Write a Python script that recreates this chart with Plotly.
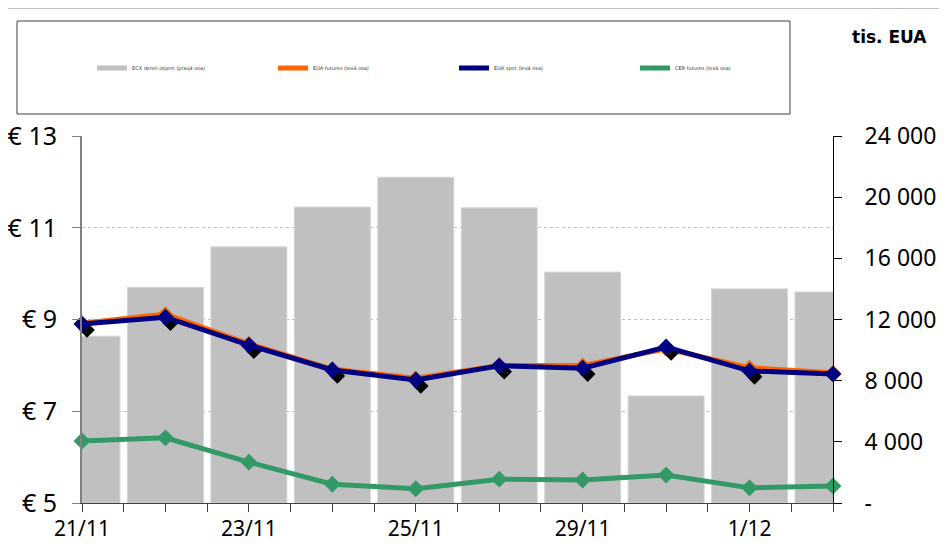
import plotly.graph_objects as go

# ---------------- data ----------------
categories = ['21/11', '22/11', '23/11', '24/11', '25/11', '28/11', '29/11', '30/11', '1/12', '2/12']
ecx_volume = [10900, 14100, 16750, 19350, 21300, 19300, 15100, 7000, 14000, 13800]
eua_futures = [8.92, 9.12, 8.47, 7.92, 7.72, 8.00, 8.00, 8.36, 7.95, 7.84]
eua_spot = [8.90, 9.05, 8.44, 7.90, 7.68, 7.99, 7.94, 8.40, 7.88, 7.81]
cer_futures = [6.35, 6.42, 5.89, 5.41, 5.31, 5.52, 5.50, 5.61, 5.33, 5.37]

left_ticks = [5, 7, 9, 11, 13]
left_ticktext = ['€ 5', '€ 7', '€ 9', '€ 11', '€ 13']
right_ticks = [0, 4000, 8000, 12000, 16000, 20000, 24000]
right_ticktext = ['-', '4 000', '8 000', '12 000', '16 000', '20 000', '24 000']

names = ['ECX denní objem (pravá osa)', 'EUA futures (levá osa)', 'EUA spot (levá osa)', 'CER futures (levá osa)']
unit_label = 'tis. EUA'

# ---------------- styling ----------------
OFF = 8                      # page body margin of the html page
W, H = 947 - OFF, 548 - OFF
ML, MR, MT, MB = 82 - OFF, 114, 136 - OFF, 45
PW, PH = W - ML - MR, H - MT - MB
FONT = 'Noto Sans, Liberation Sans, sans-serif'

C_BAR = '#C0C0C0'
C_ORANGE = '#FF6600'
C_NAVY = '#000080'
C_GREEN = '#339966'


def px_x(p):
    """page pixel x -> paper coordinate"""
    return (p - OFF - ML) / PW


def px_y(p):
    """page pixel y -> paper coordinate"""
    return (H - MB - (p - OFF)) / PH


x = list(range(len(categories)))
# Excel-style drop shadow of the spot markers
dx, dy = 0.06, 0.13
x_shadow = [v + dx for v in x]
spot_shadow = [v - dy for v in eua_spot]

fig = go.Figure()

fig.add_trace(go.Bar(
    x=x, y=ecx_volume, name=names[0], yaxis='y', xaxis='x', showlegend=False,
    marker=dict(color=C_BAR, line=dict(color='#D4D4D4', width=1)),
    width=0.91,
))
# legend key for the bars (drawn as a line key like the original)
fig.add_trace(go.Scatter(
    x=[None], y=[None], name=names[0], yaxis='y', mode='lines',
    line=dict(color=C_BAR, width=5),
))

# EUA futures
fig.add_trace(go.Scatter(
    x=x, y=eua_futures, name=names[1], yaxis='y2', mode='lines+markers',
    line=dict(color=C_ORANGE, width=5), marker=dict(symbol='diamond', size=4, color=C_ORANGE),
    cliponaxis=False,
))
fig.add_trace(go.Scatter(
    x=x, y=eua_futures, yaxis='y2', mode='markers', showlegend=False,
    marker=dict(symbol='diamond', size=12, color=C_ORANGE), cliponaxis=False, hoverinfo='skip',
))
# shadow
fig.add_trace(go.Scatter(
    x=x_shadow, y=spot_shadow, yaxis='y2', mode='markers', showlegend=False,
    marker=dict(symbol='diamond', size=12, color='#000000'), cliponaxis=False, hoverinfo='skip',
))
# EUA spot
fig.add_trace(go.Scatter(
    x=x, y=eua_spot, name=names[2], yaxis='y2', mode='lines+markers',
    line=dict(color=C_NAVY, width=5), marker=dict(symbol='diamond', size=4, color=C_NAVY),
    cliponaxis=False,
))
fig.add_trace(go.Scatter(
    x=x, y=eua_spot, yaxis='y2', mode='markers', showlegend=False,
    marker=dict(symbol='diamond', size=13, color=C_NAVY), cliponaxis=False, hoverinfo='skip',
))
# CER futures
fig.add_trace(go.Scatter(
    x=x, y=cer_futures, name=names[3], yaxis='y2', mode='lines+markers',
    line=dict(color=C_GREEN, width=5), marker=dict(symbol='diamond', size=4, color=C_GREEN),
    cliponaxis=False,
))
fig.add_trace(go.Scatter(
    x=x, y=cer_futures, yaxis='y2', mode='markers', showlegend=False,
    marker=dict(symbol='diamond', size=13, color=C_GREEN), cliponaxis=False, hoverinfo='skip',
))

# x tick positions every half category, labels on every second category
xt_vals = [i / 2 for i in range(2 * (len(categories) - 1) + 1)]
xt_text = [categories[int(v)] if (v == int(v) and int(v) % 2 == 0) else '' for v in xt_vals]

fig.update_layout(
    width=W, height=H,
    margin=dict(l=ML, r=MR, t=MT, b=MB, autoexpand=False),
    paper_bgcolor='white', plot_bgcolor='white',
    font=dict(family=FONT, color='black'),
    barmode='overlay',
    showlegend=True,
    legend=dict(
        orientation='h', x=px_x(92), xanchor='left', y=px_y(68), yanchor='middle',
        font=dict(size=5, family='DejaVu Sans, sans-serif', color='#333333'),
        bgcolor='rgba(0,0,0,0)', entrywidth=136, traceorder='normal',
    ),
    xaxis=dict(
        range=[0, len(categories) - 1], tickvals=xt_vals, ticktext=xt_text,
        ticks='outside', ticklen=8, tickcolor='#404040', tickwidth=1,
        showline=True, linecolor='#404040', linewidth=1, showgrid=False, zeroline=False,
        tickfont=dict(size=21, family=FONT), ticklabelstandoff=-1,
    ),
    yaxis=dict(
        side='right', range=[0, 24000], tickvals=right_ticks, ticktext=right_ticktext,
        ticks='outside', ticklen=8, tickcolor='black', tickwidth=1,
        showline=True, linecolor='black', linewidth=1, showgrid=False, zeroline=False,
        tickfont=dict(size=23, family=FONT), ticklabelstandoff=18,
    ),
    yaxis2=dict(
        overlaying='y', side='left', range=[5, 13], tickvals=left_ticks, ticktext=left_ticktext,
        ticks='outside', ticklen=8, tickcolor='#808080', tickwidth=1,
        showline=True, linecolor='#808080', linewidth=2, showgrid=True,
        gridcolor='#BFBFBF', griddash='dot', gridwidth=1, zeroline=False,
        tickfont=dict(size=25, family=FONT), ticklabelstandoff=10,
    ),
    annotations=[dict(
        text='<b>' + unit_label + '</b>', xref='paper', yref='paper',
        x=px_x(889), y=px_y(37), xanchor='center', yanchor='middle', showarrow=False,
        font=dict(size=17, family='DejaVu Sans, sans-serif', color='black'),
    )],
    shapes=[
        dict(type='line', xref='paper', yref='paper', x0=px_x(4), x1=px_x(960), y0=px_y(8), y1=px_y(8),
             line=dict(color='#7F7F7F', width=1)),
        dict(type='line', xref='paper', yref='paper', x0=px_x(4), x1=px_x(4), y0=px_y(8), y1=px_y(560),
             line=dict(color='#7F7F7F', width=1)),
        dict(type='rect', xref='paper', yref='paper', x0=px_x(17), x1=px_x(790), y0=px_y(114), y1=px_y(21),
             line=dict(color='#404040', width=1), fillcolor='rgba(0,0,0,0)'),
    ],
)

fig.write_html('out.html')
